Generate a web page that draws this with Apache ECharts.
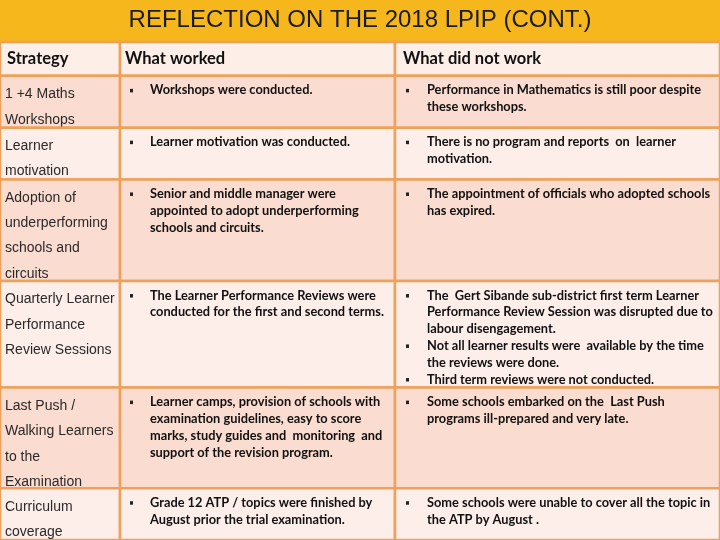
<!DOCTYPE html>
<html><head><meta charset="utf-8">
<script src="https://cdn.jsdelivr.net/npm/echarts@6/dist/echarts.min.js"></script>
<style>html,body{margin:0;padding:0;background:#F5B71C}#c{width:720px;height:540px}</style>
</head><body><div id="c"></div>
<script>
const titleText = 'REFLECTION ON THE 2018 LPIP (CONT.)';
const headers = ['Strategy', 'What worked', 'What did not work'];
const strategies = [
  ['1 +4 Maths', 'Workshops'],
  ['Learner', 'motivation'],
  ['Adoption of', 'underperforming', 'schools and', 'circuits'],
  ['Quarterly Learner', 'Performance', 'Review Sessions'],
  ['Last Push /', 'Walking Learners', 'to the', 'Examination'],
  ['Curriculum', 'coverage']
];
const worked = [
  [['Workshops were conducted.']],
  [['Learner motivation was conducted.']],
  [['Senior and middle manager were', 'appointed to adopt underperforming', 'schools and circuits.']],
  [['The Learner Performance Reviews were', 'conducted for the first and second terms.']],
  [['Learner camps, provision of schools with', 'examination guidelines, easy to score', 'marks, study guides and  monitoring  and', 'support of the revision program.']],
  [['Grade 12 ATP / topics were finished by', 'August prior the trial examination.']]
];
const notWorked = [
  [['Performance in Mathematics is still poor despite', 'these workshops.']],
  [['There is no program and reports  on  learner', 'motivation.']],
  [['The appointment of officials who adopted schools', 'has expired.']],
  [['The  Gert Sibande sub-district first term Learner', 'Performance Review Session was disrupted due to', 'labour disengagement.'],
   ['Not all learner results were  available by the time', 'the reviews were done.'],
   ['Third term reviews were not conducted.']],
  [['Some schools embarked on the  Last Push', 'programs ill-prepared and very late.']],
  [['Some schools were unable to cover all the topic in', 'the ATP by August .']]
];

// layout (table structure)
const colEdges = [0, 120, 395, 720];
const rowEdges = [0, 34, 86, 138, 240, 347, 448, 500];

const cells = [];
for (let r = 0; r <= strategies.length; r++) for (let c = 0; c < 3; c++) cells.push([c, r]);

const bodyFont = 'Lato, "Open Sans", sans-serif';
const stratFont = '"Liberation Sans", Arial, sans-serif';

function renderItem(params, api) {
  const c = api.value(0), r = api.value(1);
  const p0 = api.coord([colEdges[c], rowEdges[r]]);
  const p1 = api.coord([colEdges[c + 1], rowEdges[r + 1]]);
  const x = p0[0], y = p0[1], w = p1[0] - p0[0], h = p1[1] - p0[1];
  const fill = r === 0 ? '#FDEEE8' : (r % 2 === 1 ? '#FBDCD0' : '#FDEEE9');
  const children = [{
    type: 'rect', shape: {x: x, y: y, width: w, height: h},
    style: {fill: fill, stroke: '#EDA15A', lineWidth: 2.5}
  }];
  if (r === 0) {
    children.push({type: 'text', style: {text: headers[c], x: x + (c === 0 ? 7 : (c === 1 ? 5 : 8)), y: y + 17,
      fill: '#111', fontSize: 16.5, fontFamily: bodyFont, fontWeight: 'bold', verticalAlign: 'middle', align: 'left'}});
  } else if (c === 0) {
    strategies[r - 1].forEach(function (t, i) {
      children.push({type: 'text', style: {text: t, x: x + 5, y: y + 18.5 + i * 25.3,
        fill: '#2a2a2a', fontSize: 14, fontFamily: stratFont, verticalAlign: 'middle', align: 'left'}});
    });
  } else {
    const items = c === 1 ? worked[r - 1] : notWorked[r - 1];
    const bx = c === 1 ? 10 : 11, tx = c === 1 ? 30 : 32;
    let line = 0;
    items.forEach(function (lines) {
      const cy = y + 14.5 + line * 16.8;
      children.push({type: 'rect', shape: {x: x + bx, y: cy - 1.5, width: 3, height: 3.5}, style: {fill: '#222'}});
      lines.forEach(function (t) {
        children.push({type: 'text', style: {text: t, x: x + tx, y: y + 14.5 + line * 16.8,
          fill: '#111', fontSize: 12.8, fontFamily: bodyFont, fontWeight: 'bold', verticalAlign: 'middle', align: 'left'}});
        line++;
      });
    });
  }
  return {type: 'group', children: children};
}

const chart = echarts.init(document.getElementById('c'), null, {renderer: 'canvas'});
chart.setOption({
  backgroundColor: '#F5B71C',
  animation: false,
  title: {text: titleText, left: 'center', top: 3,
    textStyle: {fontSize: 24, fontWeight: 'normal', color: '#1b1b1b', fontFamily: stratFont}},
  grid: {left: 0, top: 42, width: 720, height: 500},
  xAxis: {type: 'value', min: 0, max: 720, show: false},
  yAxis: {type: 'value', min: 0, max: 500, inverse: true, show: false},
  series: [{type: 'custom', renderItem: renderItem, data: cells, clip: false}]
});
</script></body></html>
